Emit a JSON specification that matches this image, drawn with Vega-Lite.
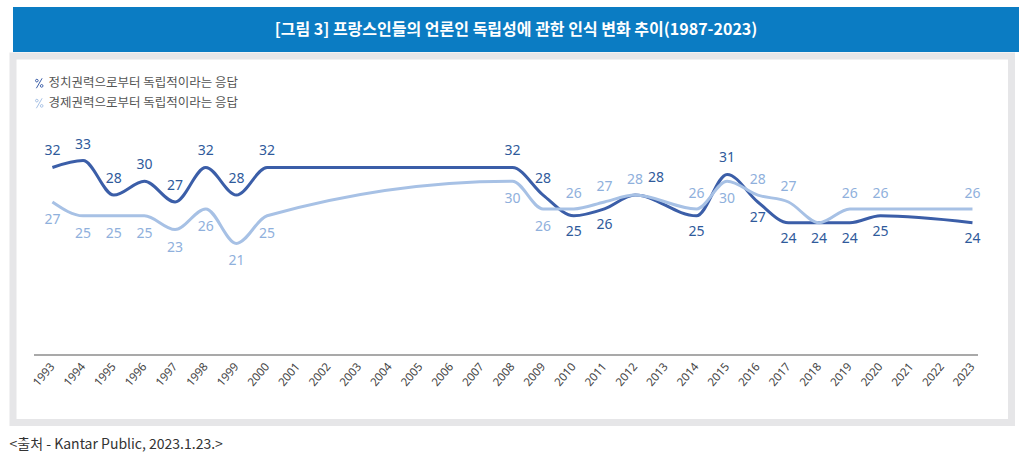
{
  "$schema": "https://vega.github.io/schema/vega-lite/v6.json",
  "background": "white",
  "padding": {"left": 9, "top": 7, "right": 0, "bottom": 0},
  "spacing": 0,
  "title": {
    "text": "<출처 - Kantar Public, 2023.1.23.>",
    "orient": "bottom",
    "anchor": "start",
    "font": "Noto Sans CJK KR",
    "fontSize": 14,
    "fontWeight": "normal",
    "color": "#333333",
    "offset": 12
  },
  "datasets": {
    "survey": [
      {"year": "1993", "series": "정치권력으로부터 독립적이라는 응답", "value": 32},
      {"year": "1994", "series": "정치권력으로부터 독립적이라는 응답", "value": 33},
      {"year": "1995", "series": "정치권력으로부터 독립적이라는 응답", "value": 28},
      {"year": "1996", "series": "정치권력으로부터 독립적이라는 응답", "value": 30},
      {"year": "1997", "series": "정치권력으로부터 독립적이라는 응답", "value": 27},
      {"year": "1998", "series": "정치권력으로부터 독립적이라는 응답", "value": 32},
      {"year": "1999", "series": "정치권력으로부터 독립적이라는 응답", "value": 28},
      {"year": "2000", "series": "정치권력으로부터 독립적이라는 응답", "value": 32},
      {"year": "2008", "series": "정치권력으로부터 독립적이라는 응답", "value": 32},
      {"year": "2009", "series": "정치권력으로부터 독립적이라는 응답", "value": 28},
      {"year": "2010", "series": "정치권력으로부터 독립적이라는 응답", "value": 25},
      {"year": "2011", "series": "정치권력으로부터 독립적이라는 응답", "value": 26},
      {"year": "2012", "series": "정치권력으로부터 독립적이라는 응답", "value": 28},
      {"year": "2014", "series": "정치권력으로부터 독립적이라는 응답", "value": 25},
      {"year": "2015", "series": "정치권력으로부터 독립적이라는 응답", "value": 31},
      {"year": "2016", "series": "정치권력으로부터 독립적이라는 응답", "value": 27},
      {"year": "2017", "series": "정치권력으로부터 독립적이라는 응답", "value": 24},
      {"year": "2018", "series": "정치권력으로부터 독립적이라는 응답", "value": 24},
      {"year": "2019", "series": "정치권력으로부터 독립적이라는 응답", "value": 24},
      {"year": "2020", "series": "정치권력으로부터 독립적이라는 응답", "value": 25},
      {"year": "2023", "series": "정치권력으로부터 독립적이라는 응답", "value": 24},
      {"year": "1993", "series": "경제권력으로부터 독립적이라는 응답", "value": 27},
      {"year": "1994", "series": "경제권력으로부터 독립적이라는 응답", "value": 25},
      {"year": "1995", "series": "경제권력으로부터 독립적이라는 응답", "value": 25},
      {"year": "1996", "series": "경제권력으로부터 독립적이라는 응답", "value": 25},
      {"year": "1997", "series": "경제권력으로부터 독립적이라는 응답", "value": 23},
      {"year": "1998", "series": "경제권력으로부터 독립적이라는 응답", "value": 26},
      {"year": "1999", "series": "경제권력으로부터 독립적이라는 응답", "value": 21},
      {"year": "2000", "series": "경제권력으로부터 독립적이라는 응답", "value": 25},
      {"year": "2008", "series": "경제권력으로부터 독립적이라는 응답", "value": 30},
      {"year": "2009", "series": "경제권력으로부터 독립적이라는 응답", "value": 26},
      {"year": "2010", "series": "경제권력으로부터 독립적이라는 응답", "value": 26},
      {"year": "2011", "series": "경제권력으로부터 독립적이라는 응답", "value": 27},
      {"year": "2012", "series": "경제권력으로부터 독립적이라는 응답", "value": 28},
      {"year": "2014", "series": "경제권력으로부터 독립적이라는 응답", "value": 26},
      {"year": "2015", "series": "경제권력으로부터 독립적이라는 응답", "value": 30},
      {"year": "2016", "series": "경제권력으로부터 독립적이라는 응답", "value": 28},
      {"year": "2017", "series": "경제권력으로부터 독립적이라는 응답", "value": 27},
      {"year": "2018", "series": "경제권력으로부터 독립적이라는 응답", "value": 24},
      {"year": "2019", "series": "경제권력으로부터 독립적이라는 응답", "value": 26},
      {"year": "2020", "series": "경제권력으로부터 독립적이라는 응답", "value": 26},
      {"year": "2023", "series": "경제권력으로부터 독립적이라는 응답", "value": 26}
    ]
  },
  "vconcat": [
    {
      "width": 1006,
      "height": 45,
      "view": {"fill": "#0b7cc3", "stroke": null},
      "data": {"values": [{"t": "[그림 3] 프랑스인들의 언론인 독립성에 관한 인식 변화 추이(1987-2023)"}]},
      "mark": {"type": "text", "font": "Noto Sans CJK KR", "fontWeight": "bold", "fontSize": 16, "color": "white"},
      "encoding": {"text": {"field": "t"}}
    },
    {
      "width": 998.5,
      "height": 366.5,
      "view": {"fill": "white", "stroke": "#e6e6e8", "strokeWidth": 7},
      "data": {"name": "survey"},
      "encoding": {
        "x": {
          "field": "year",
          "type": "ordinal",
          "scale": {
            "type": "point",
            "domain": ["1993","1994","1995","1996","1997","1998","1999","2000","2001","2002","2003","2004","2005","2006","2007","2008","2009","2010","2011","2012","2013","2014","2015","2016","2017","2018","2019","2020","2021","2022","2023"],
            "range": [20.5, 964.5],
            "padding": 0.39,
            "align": 0.79
          },
          "axis": {
            "title": null,
            "ticks": false,
            "grid": false,
            "offset": -68,
            "domainColor": "#555555",
            "domainWidth": 1.2,
            "labelAngle": -50,
            "labelAlign": "right",
            "labelBaseline": "middle",
            "labelFont": "Noto Sans",
            "labelFontSize": 11.5,
            "labelColor": "#444444",
            "labelPadding": 10
          }
        },
        "y": {
          "field": "value",
          "type": "quantitative",
          "scale": {"domain": [-4.96, 48.16], "zero": false, "nice": false},
          "axis": null
        }
      },
      "layer": [
        {
          "mark": {"type": "line", "interpolate": "monotone", "strokeWidth": 3},
          "encoding": {
            "color": {
              "field": "series",
              "type": "nominal",
              "scale": {
                "domain": ["정치권력으로부터 독립적이라는 응답", "경제권력으로부터 독립적이라는 응답"],
                "range": ["#3b5ea8", "#a7c1e5"]
              },
              "legend": {
                "orient": "none",
                "legendX": 20,
                "legendY": 70,
                "title": null,
                "padding": 0,
                "symbolType": "M0.55,-0.95L-0.55,0.95M-0.2,-0.5A0.26,0.26,0,1,1,-0.72,-0.5A0.26,0.26,0,1,1,-0.2,-0.5M0.72,0.5A0.26,0.26,0,1,1,0.2,0.5A0.26,0.26,0,1,1,0.72,0.5",
                "symbolSize": 110,
                "symbolStrokeWidth": 1,
                "symbolFillColor": "transparent",
                "labelFont": "Noto Sans CJK KR",
                "labelFontSize": 12.5,
                "labelColor": "#555555",
                "labelLimit": 400,
                "labelOffset": 3,
                "rowPadding": 5
              }
            }
          }
        },
        {
          "transform": [
            {"filter": "datum.series === '정치권력으로부터 독립적이라는 응답'"},
            {"filter": {"field": "year", "oneOf": ["1993","1994","1995","1996","1997","1998","1999","2000","2008","2009","2015"]}}
          ],
          "mark": {"type": "text", "font": "Noto Sans", "fontSize": 14, "color": "#2f5a9b", "baseline": "middle", "dy": -16},
          "encoding": {"text": {"field": "value"}}
        },
        {
          "transform": [
            {"filter": "datum.series === '정치권력으로부터 독립적이라는 응답'"},
            {"filter": {"field": "year", "oneOf": ["2012"]}}
          ],
          "mark": {"type": "text", "font": "Noto Sans", "fontSize": 14, "color": "#2f5a9b", "baseline": "middle", "dy": -17, "dx": 21},
          "encoding": {"text": {"field": "value"}}
        },
        {
          "transform": [
            {"filter": "datum.series === '정치권력으로부터 독립적이라는 응답'"},
            {"filter": {"field": "year", "oneOf": ["2010","2011","2014","2016","2017","2018","2019","2020","2023"]}}
          ],
          "mark": {"type": "text", "font": "Noto Sans", "fontSize": 14, "color": "#2f5a9b", "baseline": "middle", "dy": 16},
          "encoding": {"text": {"field": "value"}}
        },
        {
          "transform": [
            {"filter": "datum.series === '경제권력으로부터 독립적이라는 응답'"},
            {"filter": {"field": "year", "oneOf": ["1993","1994","1995","1996","1997","1998","1999","2000","2008","2009","2015"]}}
          ],
          "mark": {"type": "text", "font": "Noto Sans", "fontSize": 14, "color": "#8fb0dc", "baseline": "middle", "dy": 18},
          "encoding": {"text": {"field": "value"}}
        },
        {
          "transform": [
            {"filter": "datum.series === '경제권력으로부터 독립적이라는 응답'"},
            {"filter": {"field": "year", "oneOf": ["2010","2011","2012","2014","2016","2017","2019","2020","2023"]}}
          ],
          "mark": {"type": "text", "font": "Noto Sans", "fontSize": 14, "color": "#8fb0dc", "baseline": "middle", "dy": -15},
          "encoding": {"text": {"field": "value"}}
        }
      ]
    }
  ]
}
